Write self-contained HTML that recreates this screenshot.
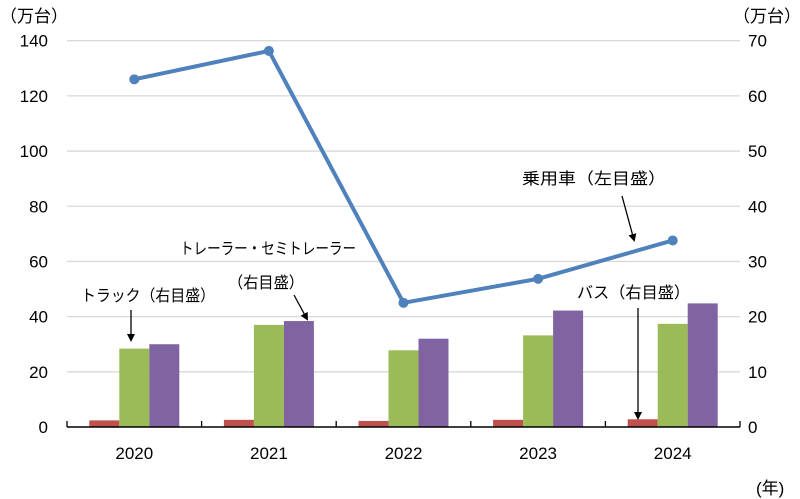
<!DOCTYPE html>
<html><head><meta charset="utf-8">
<style>
body{margin:0;background:#fff;}
svg{display:block;font-family:"Liberation Sans","Noto Sans CJK JP",sans-serif;}
</style></head><body>
<svg id="chart" width="800" height="499" viewBox="0 0 800 499">
<defs><marker id="ah" markerWidth="8" markerHeight="8" refX="6" refY="4" orient="auto" markerUnits="userSpaceOnUse"><path d="M0,0 L8,4 L0,8 Z" fill="#000"/></marker></defs>
<g id="grid"></g><g id="bars"></g><g id="line"></g><g id="axes"></g>
<text x="0" y="22" font-size="17">（万台）</text>
<text x="733" y="22" font-size="17">（万台）</text>
<text x="756" y="494" font-size="17">(年)</text>
<text x="81" y="301" font-size="16" textLength="134" lengthAdjust="spacingAndGlyphs">トラック（右目盛）</text>
<line x1="131" y1="310" x2="131" y2="340" stroke="#000" stroke-width="1.3" marker-end="url(#ah)"/>
<text x="180" y="254" font-size="16" textLength="176" lengthAdjust="spacingAndGlyphs">トレーラー・セミトレーラー</text>
<text x="228" y="288" font-size="16" textLength="76" lengthAdjust="spacingAndGlyphs">（右目盛）</text>
<line x1="294" y1="295" x2="307" y2="319" stroke="#000" stroke-width="1.3" marker-end="url(#ah)"/>
<text x="522" y="184" font-size="16" textLength="144" lengthAdjust="spacingAndGlyphs">乗用車（左目盛）</text>
<line x1="622" y1="196" x2="634" y2="240" stroke="#000" stroke-width="1.3" marker-end="url(#ah)"/>
<text x="577" y="298" font-size="16" textLength="113" lengthAdjust="spacingAndGlyphs">バス（右目盛）</text>
<line x1="638" y1="308" x2="638" y2="418" stroke="#000" stroke-width="1.3" marker-end="url(#ah)"/>
</svg>
<script>
const years=["2020","2021","2022","2023","2024"];
const car=[126,136.3,45,53.7,67.6];
const bus=[1.2,1.3,1.1,1.3,1.4];
const truck=[14.2,18.5,13.9,16.6,18.7];
const trailer=[15.0,19.2,16.0,21.1,22.4];
const leftTicks=[0,20,40,60,80,100,120,140];
const rightTicks=[0,10,20,30,40,50,60,70];
const NS="http://www.w3.org/2000/svg";
const X0=67,X1=740,Y0=427,Y1=40.7;
const cw=(X1-X0)/years.length;
const yL=v=>Y0-(v/140)*(Y0-Y1);
const yR=v=>Y0-(v/70)*(Y0-Y1);
const cx=i=>X0+cw*(i+0.5);
function mk(tag,attrs,parent){const e=document.createElementNS(NS,tag);for(const k in attrs)e.setAttribute(k,attrs[k]);document.getElementById(parent).appendChild(e);return e;}
leftTicks.forEach((t,i)=>{
  if(t>0){const g=mk('line',{x1:X0,x2:X1,y1:yL(t),y2:yL(t),stroke:'#d9d9d9','stroke-width':1.3},'grid');
  
  }
  const l=mk('text',{x:48,y:yL(t)+6,'text-anchor':'end','font-size':17},'axes');l.textContent=t;
  
  
});
rightTicks.forEach(t=>{
  const l=mk('text',{x:748,y:yR(t)+6,'font-size':17},'axes');l.textContent=t;
  
  
});
const ax=mk('line',{x1:X0,x2:X1,y1:Y0,y2:Y0,stroke:'#000','stroke-width':1.5},'axes');


for(let i=0;i<=years.length;i++){
  const tk=mk('line',{x1:X0+cw*i,x2:X0+cw*i,y1:Y0-6,y2:Y0,stroke:'#000','stroke-width':1.3},'axes');
  
  
}
const bw=30;
const series=[[bus,'#c0504d','bus-bar'],[truck,'#9bbb59','truck-bar'],[trailer,'#8064a2','trailer-bar']];
years.forEach((y,i)=>{
  const l=mk('text',{x:cx(i),y:459,'text-anchor':'middle','font-size':17},'axes');l.textContent=y;
  
  
  series.forEach((s,j)=>{
    const v=s[0][i];const x=cx(i)-45+j*bw;
    const r=mk('rect',{x:x,y:yR(v),width:bw,height:Y0-yR(v),fill:s[1]},'bars');
    
    
  });
});
const pts=car.map((v,i)=>cx(i)+','+yL(v)).join(' ');
const pl=mk('polyline',{points:pts,fill:'none',stroke:'#4f81bd','stroke-width':4,'stroke-linejoin':'round'},'line');


car.forEach((v,i)=>{
  const c=mk('circle',{cx:cx(i),cy:yL(v),r:5,fill:'#4f81bd'},'line');
  
  
});
</script>
</body></html>
